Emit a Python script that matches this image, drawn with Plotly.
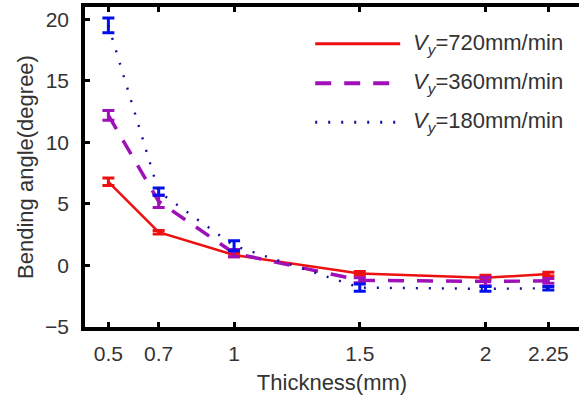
import plotly.graph_objects as go

thickness = [0.5, 0.7, 1.0, 1.5, 2.0, 2.25]
tick_labels = ["0.5", "0.7", "1", "1.5", "2", "2.25"]

angle_720 = [6.8, 2.7, 0.85, -0.65, -1.0, -0.7]
err_720 = [0.3, 0.15, 0.15, 0.15, 0.2, 0.15]
angle_360 = [12.2, 5.2, 1.0, -1.2, -1.3, -1.25]
err_360 = [0.4, 0.5, 0.3, 0.2, 0.35, 0.2]
angle_180 = [19.5, 6.0, 1.6, -1.8, -1.9, -1.85]
err_180 = [0.6, 0.3, 0.4, 0.3, 0.2, 0.15]

series_names = ["720mm/min", "360mm/min", "180mm/min"]
colors = ["#ee1010", "#a010b8", "#10109a"]
err_colors = ["#ee1010", "#a010b8", "#0010ee"]
dashes = ["solid", "16px,13px", "2px,11px"]
widths = [2.5, 3.5, 2.4]

FONT = "Liberation Sans, Arial, sans-serif"
fig = go.Figure()
for ys, es, c, ec, d, w, n in zip([angle_720, angle_360, angle_180],
                                 [err_720, err_360, err_180],
                                 colors, err_colors, dashes, widths, series_names):
    fig.add_trace(go.Scatter(
        x=thickness, y=ys, mode="lines", name=n,
        line=dict(color=c, dash=d, width=w),
        error_y=dict(type="data", array=es, visible=True, color=ec,
                     thickness=3, width=6),
        showlegend=False))

# legend drawn manually (long line samples)
leg_y = [0.885, 0.762, 0.640]
for c, d, w, n, yy in zip(colors, dashes, widths, series_names, leg_y):
    fig.add_shape(type="line", xref="paper", yref="paper",
                  x0=0.466, x1=0.638, y0=yy, y1=yy,
                  line=dict(color=c, dash=d, width=w + 0.5))
    fig.add_annotation(xref="paper", yref="paper", x=0.66, y=yy,
                       xanchor="left", yanchor="middle", showarrow=False,
                       text="<i>V</i><sub><i>y</i></sub>=" + n,
                       font=dict(family=FONT, size=22, color="#333"))

fig.update_layout(
    width=579, height=395,
    margin=dict(l=85, r=0, t=7, b=68),
    plot_bgcolor="white", paper_bgcolor="white",
    font=dict(family=FONT, size=21, color="#333"),
    showlegend=False,
    xaxis=dict(range=[0.407, 2.372], tickvals=thickness, ticktext=tick_labels,
               showgrid=False, zeroline=False, showline=True, linecolor="black",
               linewidth=3.5, mirror="ticks", ticks="inside", ticklen=5,
               tickwidth=2.5, tickcolor="black", ticklabelstandoff=5,
               title=dict(text="Thickness(mm)", standoff=12,
                          font=dict(size=22, color="#333"))),
    yaxis=dict(range=[-5, 21], tickvals=[-5, 0, 5, 10, 15, 20],
               ticktext=["\u22125", "0", "5", "10", "15", "20"],
               showgrid=False, zeroline=False, showline=True, linecolor="black",
               linewidth=3.5, mirror=False, ticks="inside", ticklen=5,
               tickwidth=2.5, tickcolor="black", ticklabelstandoff=8,
               title=dict(text="Bending angle(degree)", standoff=6,
                          font=dict(size=22, color="#333"))),
)

fig.write_html("out.html")
